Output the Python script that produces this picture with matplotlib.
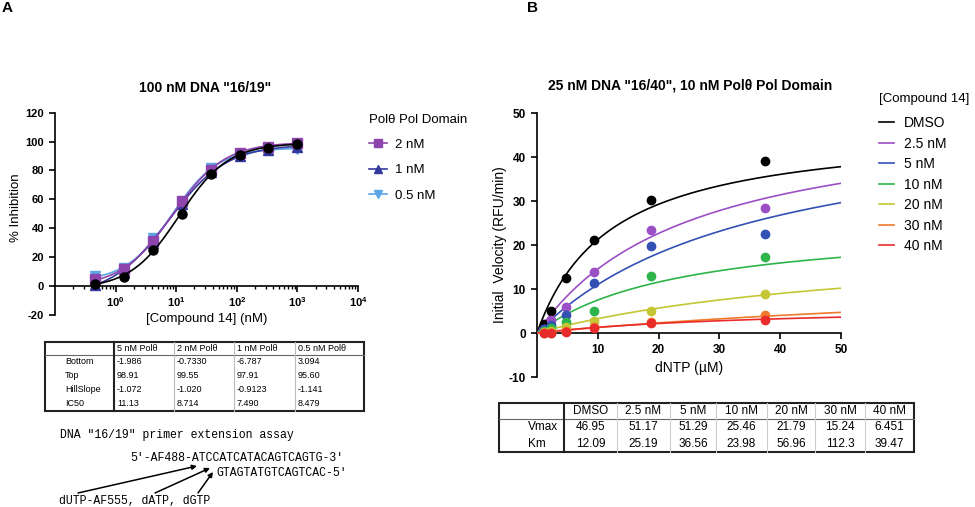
import numpy as np
import matplotlib
matplotlib.use('Agg')
import matplotlib.pyplot as plt
from matplotlib.lines import Line2D

plt.rcParams['font.family'] = ['Liberation Sans', 'DejaVu Sans']
plt.rcParams['mathtext.fontset'] = 'custom'
plt.rcParams['mathtext.rm'] = 'Liberation Sans'
plt.rcParams['mathtext.bf'] = 'Liberation Sans:bold'
plt.rcParams['axes.unicode_minus'] = False

W, H = 975, 507

# ---------------- panel A data ----------------
conc_A = [0.457, 1.37, 4.12, 12.35, 37.0, 111.1, 333.3, 1000.0]
inh_5nM = [1.5, 6.5, 25.0, 50.0, 77.5, 91.0, 95.5, 98.0]
inh_2nM = [5.0, 12.0, 31.0, 59.0, 80.0, 92.0, 96.5, 99.0]
inh_1nM = [0.5, 10.0, 30.0, 57.0, 79.0, 90.0, 94.0, 96.0]
inh_05nM = [7.0, 12.5, 33.0, 57.0, 82.0, 91.0, 95.0, 95.0]

fitA_cols = ['5 nM Polθ', '2 nM Polθ', '1 nM Polθ', '0.5 nM Polθ']
fitA_rows = ['Bottom', 'Top', 'HillSlope', 'IC50']
fitA_bottom = [-1.986, -0.7330, -6.787, 3.094]
fitA_top = [98.91, 99.55, 97.91, 95.60]
fitA_hill = [-1.072, -1.020, -0.9123, -1.141]
fitA_ic50 = [11.13, 8.714, 7.490, 8.479]
fitA_text = [['-1.986', '-0.7330', '-6.787', '3.094'],
             ['98.91', '99.55', '97.91', '95.60'],
             ['-1.072', '-1.020', '-0.9123', '-1.141'],
             ['11.13', '8.714', '7.490', '8.479']]

# ---------------- panel B data ----------------
dntp = [1.17, 2.34, 4.69, 9.375, 18.75, 37.5]
cmpd = ['DMSO', '2.5 nM', '5 nM', '10 nM', '20 nM', '30 nM', '40 nM']
vel = [[2.0, 4.9, 12.4, 21.1, 30.3, 39.0],
       [0.9, 3.0, 5.8, 13.9, 23.5, 28.4],
       [0.8, 1.9, 4.2, 11.4, 19.7, 22.6],
       [0.5, 1.1, 2.5, 4.9, 13.0, 17.3],
       [0.3, 0.5, 1.3, 2.7, 4.9, 8.9],
       [-0.1, 0.0, 0.4, 1.3, 2.4, 4.1],
       [-0.1, 0.0, 0.3, 1.2, 2.2, 2.9]]
vmax = [46.95, 51.17, 51.29, 25.46, 21.79, 15.24, 6.451]
km = [12.09, 25.19, 36.56, 23.98, 56.96, 112.3, 39.47]
vmax_txt = ['46.95', '51.17', '51.29', '25.46', '21.79', '15.24', '6.451']
km_txt = ['12.09', '25.19', '36.56', '23.98', '56.96', '112.3', '39.47']

colors_B = ['#000000', '#9B4FC4', '#3350B4', '#2DB44B', '#C5C634', '#F07A2C', '#EA2B2B']


def px_axes(fig, l, r, t, b):
    return fig.add_axes([l / W, 1 - b / H, (r - l) / W, (b - t) / H])


def fourpl(x, bottom, top, hill, ic50):
    return bottom + (top - bottom) / (1 + (ic50 / x) ** abs(hill))


def mm(x, v, k):
    return v * x / (k + x)


fig = plt.figure(figsize=(W / 100, H / 100), dpi=100)

# overlay in pixel coordinates for text, tables and arrows
ov = fig.add_axes([0, 0, 1, 1])
ov.set_xlim(0, W)
ov.set_ylim(H, 0)
ov.axis('off')

ov.text(2, 8, 'A', fontsize=11, fontweight='bold', va='center')
ov.text(527, 8, 'B', fontsize=11, fontweight='bold', va='center')

# ---------------- panel A plot ----------------
axA = px_axes(fig, 55, 358, 112.7, 315)
axA.patch.set_alpha(0)
styles = [('#000000', 'o', None, inh_5nM),
          ('#8E44AD', 's', '2 nM', inh_2nM),
          ('#34399E', '^', '1 nM', inh_1nM),
          ('#5AA6E6', 'v', '0.5 nM', inh_05nM)]
xfit = np.logspace(np.log10(conc_A[0]), np.log10(conc_A[-1]), 200)
handles = []
for i, (c, m, lab, ys) in enumerate(styles):
    z = 5 - i if i else 6
    axA.plot(xfit, fourpl(xfit, fitA_bottom[i], fitA_top[i], fitA_hill[i], fitA_ic50[i]),
             color=c, lw=1.2, zorder=z)
    axA.plot(conc_A, ys, ls='none', marker=m, color=c, ms=6.5, zorder=z, clip_on=False)
    if lab:
        handles.append(Line2D([], [], color=c, marker=m, ms=6, lw=1.2, label=lab))
axA.set_xscale('log')
axA.set_xlim(0.1, 1e4)
axA.set_ylim(-20, 120)
axA.set_yticks(range(-20, 121, 20))
axA.set_xticks([1, 10, 100, 1000, 10000])
axA.set_xticklabels([r'$\mathbf{10^{%d}}$' % e for e in range(5)])
axA.spines['top'].set_visible(False)
axA.spines['right'].set_visible(False)
axA.spines['bottom'].set_position(('data', 0))
for s in ['left', 'bottom']:
    axA.spines[s].set_linewidth(1.2)
axA.tick_params(which='major', length=4.5, width=1.2, labelsize=8)
axA.tick_params(axis='x', which='major', pad=2)
axA.tick_params(which='minor', length=2.5, width=1)
for t in axA.get_yticklabels():
    t.set_fontweight('bold')
axA.set_xlabel('[Compound 14] (nM)', fontsize=9.5)
axA.xaxis.label.set_va('center')
axA.xaxis.set_label_coords(0.5, -0.018)
axA.set_ylabel('% Inhibition', fontsize=9.5)
axA.yaxis.set_label_coords(-0.11, 0.53)
ov.text(205, 88, '100 nM DNA "16/19"', fontsize=10, fontweight='bold', ha='center', va='center')
legA = axA.legend(handles=handles, title='Polθ Pol Domain', loc='upper left',
                  bbox_to_anchor=(362, 107), bbox_transform=ov.transData, frameon=False,
                  fontsize=9.5, title_fontsize=9.5, handlelength=1.4, handletextpad=0.6,
                  labelspacing=1.0, alignment='left', borderpad=0)

# ---------------- panel A table ----------------
colx = [45, 114, 174, 234, 295, 364]
top_y, head_y, bot_y = 342, 355, 411
rh = (bot_y - head_y) / 4
ov.add_patch(plt.Rectangle((colx[0], top_y), colx[-1] - colx[0], bot_y - top_y,
                           fill=False, lw=1.5, ec='#222222'))
ov.plot([colx[0], colx[-1]], [head_y, head_y], color='#666666', lw=0.8)
ov.plot([colx[1], colx[1]], [top_y, bot_y], color='#222222', lw=1.5)
for x in colx[2:-1]:
    ov.plot([x, x], [top_y, bot_y], color='#bbbbbb', lw=0.8)
for j, h in enumerate(fitA_cols):
    ov.text(colx[j + 1] + 3, (top_y + head_y) / 2, h, fontsize=6.5, va='center')
for i, r in enumerate(fitA_rows):
    yc = head_y + rh * (i + 0.5)
    ov.text(colx[0] + 20, yc, r, fontsize=6.5, va='center')
    for j, v in enumerate(fitA_text[i]):
        ov.text(colx[j + 1] + 3, yc, v, fontsize=6.5, va='center')

# ---------------- DNA scheme ----------------
mono = 'Liberation Mono'
ov.text(60, 435, 'DNA "16/19" primer extension assay', family=mono, fontsize=8.3, va='center')
ov.text(130, 458, "5'-AF488-ATCCATCATACAGTCAGTG-3'", family=mono, fontsize=8.3, va='center')
ov.text(216, 473, "GTAGTATGTCAGTCAC-5'", family=mono, fontsize=8.3, va='center')
ov.text(59, 501, 'dUTP-AF555, dATP, dGTP', family=mono, fontsize=8.3, va='center')
for (x0, y0, x1, y1) in [(78, 493, 197, 466), (155, 493, 210, 468), (198, 493, 213, 472)]:
    ov.annotate('', xy=(x1, y1), xytext=(x0, y0),
                arrowprops=dict(arrowstyle='-|>', color='black', lw=1.1,
                                mutation_scale=7, shrinkA=0, shrinkB=0))

# ---------------- panel B plot ----------------
axB = px_axes(fig, 537, 841, 113, 377)
axB.patch.set_alpha(0)
xB = np.linspace(0, 50, 200)
for i in range(len(cmpd)):
    axB.plot(xB, mm(xB, vmax[i], km[i]), color=colors_B[i], lw=1.2, label=cmpd[i], zorder=3)
    axB.plot(dntp, vel[i], ls='none', marker='o', color=colors_B[i], ms=6, zorder=4)
axB.set_xlim(0, 50)
axB.set_ylim(-10, 50)
axB.set_xticks([10, 20, 30, 40, 50])
axB.set_yticks(range(-10, 51, 10))
axB.spines['top'].set_visible(False)
axB.spines['right'].set_visible(False)
axB.spines['bottom'].set_position(('data', 0))
for s in ['left', 'bottom']:
    axB.spines[s].set_linewidth(1.2)
axB.tick_params(length=4.5, width=1.2, labelsize=8.5)
for t in axB.get_xticklabels() + axB.get_yticklabels():
    t.set_fontweight('bold')
axB.set_xlabel('dNTP (µM)', fontsize=10)
axB.xaxis.set_label_coords(0.5, 0.06)
axB.set_ylabel('Initial  Velocity (RFU/min)', fontsize=10)
axB.yaxis.set_label_coords(-0.1, 0.5)
ov.text(690, 86, '25 nM DNA "16/40", 10 nM Polθ Pol Domain', fontsize=10, fontweight='bold',
        ha='center', va='center')
axB.legend(title='[Compound 14]', loc='upper left', bbox_to_anchor=(872, 86),
           bbox_transform=ov.transData, frameon=False, fontsize=10, title_fontsize=9.5,
           handlelength=1.1, handletextpad=0.7, labelspacing=0.47, alignment='left', borderpad=0)
axB.get_legend()._legend_box.sep = 8

# ---------------- panel B table ----------------
colxB = [499, 564, 617, 670, 716, 767, 815, 865, 914]
rowsB = [403, 419, 436, 452]
ov.add_patch(plt.Rectangle((colxB[0], rowsB[0]), colxB[-1] - colxB[0], rowsB[-1] - rowsB[0],
                           fill=False, lw=1.5, ec='#222222'))
ov.plot([colxB[0], colxB[-1]], [rowsB[1], rowsB[1]], color='#666666', lw=0.8)
ov.plot([colxB[1], colxB[1]], [rowsB[0], rowsB[-1]], color='#222222', lw=1.5)
for x in colxB[2:-1]:
    ov.plot([x, x], [rowsB[0], rowsB[-1]], color='#cccccc', lw=0.8)
for j, h in enumerate(cmpd):
    xc = (colxB[j + 1] + colxB[j + 2]) / 2
    yc = (rowsB[0] + rowsB[1]) / 2
    ov.text(xc, yc, h, fontsize=8.5, ha='center', va='center')
    ov.text(xc, (rowsB[1] + rowsB[2]) / 2, vmax_txt[j], fontsize=8.5, ha='center', va='center')
    ov.text(xc, (rowsB[2] + rowsB[3]) / 2, km_txt[j], fontsize=8.5, ha='center', va='center')
ov.text(558, (rowsB[1] + rowsB[2]) / 2, 'Vmax', fontsize=8.5, ha='right', va='center')
ov.text(546, (rowsB[2] + rowsB[3]) / 2, 'Km', fontsize=8.5, ha='right', va='center')

fig.savefig('out.png', dpi=100)
